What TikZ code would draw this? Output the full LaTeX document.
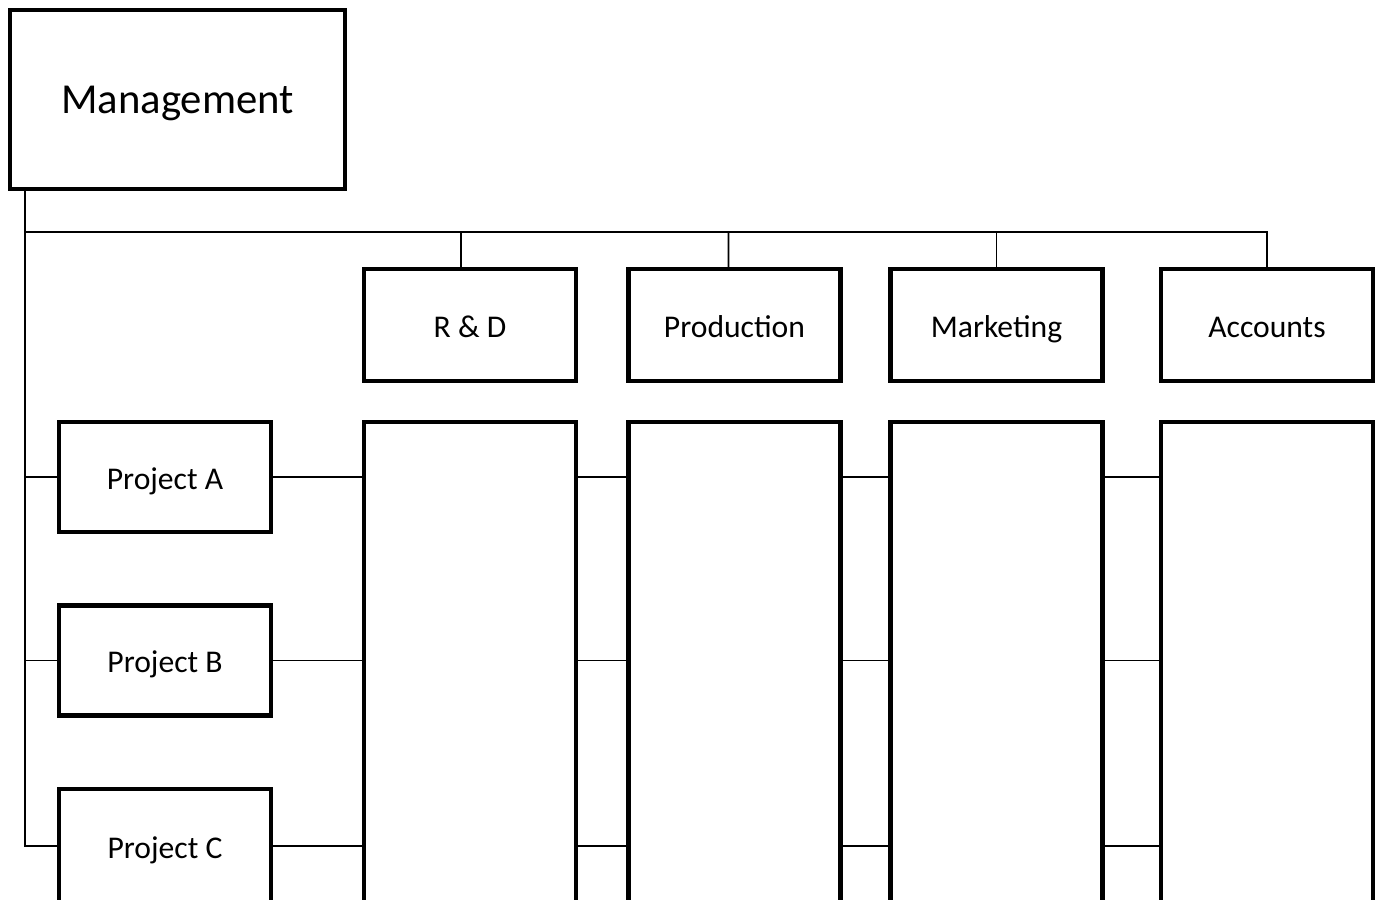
\documentclass[tikz,border=0pt]{standalone}
\usepackage{fontspec}
\setmainfont{Carlito}
\usepackage{tikz}

\begin{document}
\begin{tikzpicture}[x=0.2mm, y=-0.2mm,
  unit/.style={draw, line width=2.3pt, minimum width=42.4mm, minimum height=22.4mm, text height=3.1ex, text depth=.15ex, font=\fontsize{18}{21}\selectfont},
  proj/.style={unit, minimum height=22mm},
  column/.style={draw, line width=2.3pt, minimum width=42.4mm, minimum height=120mm},
  link/.style={line width=1.1pt}]
\useasboundingbox (0,0) rectangle (1378,900);
\clip (0,0) rectangle (1378,900);

% Root
\node[draw, line width=2.3pt, minimum width=67mm, minimum height=35.8mm, text height=3.6ex, text depth=.15ex, font=\fontsize{24.3}{28}\selectfont] (mgmt) at (177.5,99.5) {Management};

% Departments
\node[unit] (rd) at (470,325) {R \& D};
\node[unit] (prod) at (734.5,325) {Production};
\node[unit] (mkt) at (996.5,325) {Marketing};
\node[unit] (acc) at (1267,325) {Accounts};

% Columns below each department
\node[column] (rdcol) at (470,722) {};
\node[column] (prodcol) at (734.5,722) {};
\node[column] (mktcol) at (996.5,722) {};
\node[column] (acccol) at (1267,722) {};

% Projects
\node[proj] (pa) at (165,477) {Project A};
\node[proj] (pb) at (165,660.5) {Project B};
\node[proj, minimum height=22.8mm] (pc) at (165,846) {Project C};

% Bus from management
\coordinate (bus) at (25,232);
\draw[link] (mgmt.south -| bus) -- (pc.west -| bus) -- (pc.west);
\draw[link] (bus) -- (bus -| acc.north) -- (acc.north);
\draw[link] (bus -| rd.north) ++(-9,0) -- ([xshift=-1.8mm]rd.north);
\draw[link] (bus -| prod.north) ++(-6,0) -- ([xshift=-1.2mm]prod.north);
\draw[link] (bus -| mkt.north) -- (mkt.north);
\draw[link] (pa.west -| bus) -- (pa.west);
\draw[link] (pb.west -| bus) -- (pb.west);

% Project rows across the columns
\foreach \p in {pa,pb,pc} {
  \draw[link] (\p.east) -- (\p.east -| rdcol.west);
  \draw[link] (\p.east -| rdcol.east) -- (\p.east -| prodcol.west);
  \draw[link] (\p.east -| prodcol.east) -- (\p.east -| mktcol.west);
  \draw[link] (\p.east -| mktcol.east) -- (\p.east -| acccol.west);
}
\end{tikzpicture}
\end{document}
